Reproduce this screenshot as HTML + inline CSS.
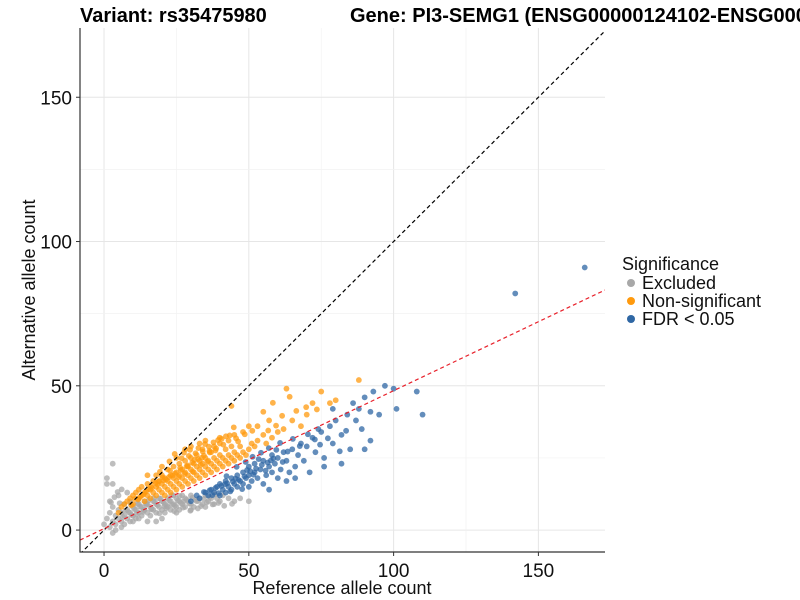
<!DOCTYPE html>
<html><head><meta charset="utf-8"><style>
body{margin:0;background:#fff;}
svg{display:block;font-family:"Liberation Sans",Arial,sans-serif;}
</style></head><body>
<svg id="chart" width="800" height="600"></svg>
<script>
const xTicks=[0,50,100,150];
const yTicks=[0,50,100,150];
const gridVals=[0,25,50,75,100,125,150];
const excludedRef=[0,1,2,2,3,3,4,4,5,5,6,6,7,7,7,8,8,9,9,9,10,10,11,11,12,12,13,13,14,14,15,15,16,16,17,17,18,18,19,19,20,20,21,21,22,22,23,23,24,24,25,25,26,26,27,27,28,28,29,30,30,31,32,33,34,35,36,37,38,39,40,41,43,45,47,50,2,3,5,3,1,1,8,12,10,15,20,6,4,3,18,25,30,35,
 6.5,8.5,10.5,12.5,14.5,16.5,18.5,20.5,22.5,24.5,26.5,28.5,30.5,32.5,34.5,36.5,7.5,9.5,11.5,13.5,15.5,17.5,19.5,21.5,23.5,25.5,27.5,29.5,31.5,33.5,35.5,37.5,39.5,11.2,13.8,16.3,19.1,21.7,24.2,27.3,29.8,32.4,14.6,17.2,20.9,23.3,26.1,9.3,5.4,3.6,41.5,44.2,38.3,4.7,6.1,2.4];
const excludedAlt=[2,4,1,6,3,8,2,5,4,7,3,6,2,5,9,4,7,3,6,10,5,8,4,7,6,9,5,8,7,10,6,9,5,8,7,10,6,9,8,11,7,10,6,9,8,11,7,10,9,12,8,11,7,10,9,12,8,11,10,9,12,8,10,11,9,12,10,11,9,11,10,12,11,10,11,10,10,16,12,23,18,16,13,4,3,3,4,1,0,-1,3,6,7,8,
 4.5,6.2,7.3,8.1,9.2,7.4,8.6,9.7,10.3,8.5,9.4,10.6,11.2,10.1,10.8,11.5,6.8,5.2,9.1,6.3,10.4,9.8,10.9,7.6,8.8,10.2,9.9,9.2,10.5,8.3,9.6,8.9,9.4,5.6,6.9,7.2,5.8,8.4,6.6,7.8,6.7,7.5,8.8,11.1,8.2,12.1,11.8,8.9,9.3,11.4,8.4,9.1,12.3,13.2,14.1,9.6];
const nonsigRef=[5,6,7,8,9,10,10,11,12,12,13,13,14,14,15,15,16,16,17,17,18,18,18,19,19,20,20,20,21,21,21,22,22,22,23,23,23,24,24,24,25,25,25,26,26,26,27,27,27,28,28,28,29,29,29,30,30,30,31,31,31,32,32,32,33,33,33,34,34,34,35,35,35,36,36,37,37,37,38,38,39,39,40,40,40,41,41,42,42,43,43,44,44,45,45,46,47,47,48,49,50,51,52,53,55,56,58,60,62,65,68,70,72,75,78,80,88,63,55,50,45,40,38,30,25,20,15,35,28,48,57,53,44,43,33,
 12.5,14.5,16.5,18.5,20.5,22.5,24.5,26.5,28.5,30.5,32.5,34.5,36.5,38.5,16.2,18.8,21.4,23.7,26.3,28.9,31.2,33.8,36.4,38.7,41.2,19.3,22.6,25.8,27.9,30.6,33.4,35.7,24.4,27.6,29.7,32.6,34.9,37.8,40.6,43.4,46.3,48.6,51.2,44.8,10.7,13.6,15.4,17.8,20.2,22.8,9.4,11.8,26.8,29.3,31.6,34.1,36.2,39.4,42.1,45.6,56.7,59.4,61.5,66.4,58.3,64.1,69.8,73.5];
const nonsigAlt=[6,8,9,10,11,12,9,13,11,14,12,15,10,13,12,16,11,14,13,17,12,15,19,14,17,13,16,19,12,15,18,14,17,21,13,16,19,15,18,22,14,17,20,16,19,23,15,18,21,17,20,24,16,19,22,18,21,25,17,20,23,19,22,26,18,21,24,20,23,28,19,22,25,21,24,20,23,27,22,25,21,24,23,26,30,22,25,24,28,23,26,25,29,24,27,26,25,29,27,26,28,30,29,31,33,30,32,34,35,38,36,40,44,48,44,45,52,49,41,36,33,32,29,29,25,22,19,31,28,34,38,36,43,31,30,
 11.5,13.4,14.6,15.8,17.2,18.4,19.6,20.8,22.1,23.4,24.6,25.8,26.9,27.6,15.2,16.8,17.5,18.9,21.6,22.4,24.3,25.1,27.4,28.3,29.6,20.2,23.8,18.4,19.5,20.3,22.6,23.7,26.4,26.8,27.8,28.4,29.8,30.4,31.6,32.8,30.7,33.2,34.4,35.6,10.8,12.3,14.2,16.3,18.2,20.6,8.6,10.6,24.9,25.7,26.6,27.2,28.9,31.2,32.5,31.8,34.5,36.2,39.6,41.3,44.1,46.2,42.6,41.8];
const fdrRef=[30,32,33,35,36,37,38,39,40,40,41,42,42,43,44,44,45,46,46,47,48,48,49,50,50,50,51,52,52,53,54,55,55,56,57,58,58,59,60,60,61,62,63,64,65,66,67,68,69,70,71,72,73,75,76,78,79,80,82,84,85,86,88,89,90,92,93,95,97,100,101,108,110,90,92,82,76,66,63,57,142,166,74,79,87,
 34.5,36.5,38.5,40.5,42.5,44.5,46.5,48.5,50.5,52.5,54.5,56.5,58.5,37.4,39.6,41.8,43.6,45.4,47.7,49.4,51.6,53.4,55.8,57.6,59.5,61.7,42.3,45.8,48.9,51.3,54.2,56.9,60.8,63.4,65.2,67.6,70.4,72.8,74.6,77.3,81.4,83.6];
const fdrAlt=[10,12,11,13,12,14,13,15,12,16,14,13,17,15,14,18,16,15,19,17,16,20,18,15,19,22,17,20,23,18,21,16,24,19,22,20,26,23,18,25,21,27,24,20,28,22,26,30,24,29,20,32,27,34,25,36,30,38,33,40,28,44,42,35,46,41,48,40,50,49,42,48,40,28,31,23,22,18,17,14,82,91,35,42,38,
 13.2,13.8,14.6,15.3,16.2,16.8,17.4,18.6,20.4,21.3,22.6,23.4,24.8,12.1,12.8,15.9,13.4,17.8,14.2,20.8,19.2,24.6,20.6,24.1,27.8,23.6,18.7,21.9,23.6,25.4,26.8,28.4,30.2,27.2,31.6,29.1,33.2,31.4,29.6,31.8,27.3,34.4];

const L=80,R=605,T=28,B=552,xmin=-8.3,xmax=173,ymin=-7.6,ymax=174;
const sx=v=>L+(v-xmin)/(xmax-xmin)*(R-L);
const sy=v=>B-(v-ymin)/(ymax-ymin)*(B-T);
const svg=document.getElementById('chart');
const NS='http://www.w3.org/2000/svg';
function mk(tag,attrs,parent){const e=document.createElementNS(NS,tag);for(const k in attrs)e.setAttribute(k,attrs[k]);(parent||svg).appendChild(e);return e;}

gridVals.forEach(v=>{
  const major=v%50===0;
  const gx=mk('line',{x1:sx(v),x2:sx(v),y1:T,y2:B,stroke:major?'#e6e6e6':'#f2f2f2','stroke-width':major?1:0.7});
  
  
  const gy=mk('line',{x1:L,x2:R,y1:sy(v),y2:sy(v),stroke:major?'#e6e6e6':'#f2f2f2','stroke-width':major?1:0.7});
  
  
});

const clip=mk('clipPath',{id:'pc'});mk('rect',{x:L,y:T,width:R-L,height:B-T},clip);
const g=mk('g',{'clip-path':'url(#pc)'});
function pts(rs,as,color,name){
  rs.forEach((r,i)=>{
    const c=mk('circle',{cx:sx(r),cy:sy(as[i]),r:2.9,fill:color,'fill-opacity':0.75},g);
    
    
  });
}
pts(excludedRef,excludedAlt,'#a8a8a8','excluded-point');
pts(nonsigRef,nonsigAlt,'#ff9a0e','non-significant-point');
pts(fdrRef,fdrAlt,'#2f67a4','fdr-point');

const id=mk('line',{x1:sx(xmin),y1:sy(xmin),x2:sx(180),y2:sy(180),stroke:'#000','stroke-dasharray':'4,3','stroke-width':1.2},g);


const slope=0.478,icpt=0.5;
const fit=mk('line',{x1:sx(xmin),y1:sy(icpt+slope*xmin),x2:sx(xmax),y2:sy(icpt+slope*xmax),stroke:'#e8202a','stroke-dasharray':'4,3','stroke-width':1.2},g);



const ax=mk('path',{d:`M${L},${T}V${B}H${R}`,fill:'none',stroke:'#333','stroke-width':1.2});



xTicks.forEach(v=>{
  mk('line',{x1:sx(v),x2:sx(v),y1:B,y2:B+4,stroke:'#333'});
  const t=mk('text',{x:sx(v),y:B+25,'text-anchor':'middle','font-size':19,fill:'#111'});t.textContent=v;
  
  
});
yTicks.forEach(v=>{
  mk('line',{x1:L-4,x2:L,y1:sy(v),y2:sy(v),stroke:'#333'});
  const t=mk('text',{x:L-8,y:sy(v)+7,'text-anchor':'end','font-size':19,fill:'#111'});t.textContent=v;
  
  
});
</script>
<div style="position:absolute;left:0;top:0;width:800px;height:600px;pointer-events:none;">
<svg width="800" height="600" style="position:absolute;left:0;top:0">
<text x="342" y="594" text-anchor="middle" font-size="18" fill="#111">Reference allele count</text>
<text transform="translate(35,290) rotate(-90)" text-anchor="middle" font-size="18" fill="#111">Alternative allele count</text>
<text x="80" y="22" font-size="20" font-weight="bold" fill="#000">Variant: rs35475980</text>
<text x="350" y="22" font-size="20" font-weight="bold" fill="#000">Gene: PI3-SEMG1 (ENSG00000124102-ENSG00000124233)</text>
<g>
<text x="622" y="270" font-size="18" fill="#111">Significance</text>
<circle cx="631" cy="283" r="4" fill="#a8a8a8"/>
<text x="642" y="289" font-size="18" fill="#111">Excluded</text>
<circle cx="631" cy="301" r="4" fill="#ff9a0e"/>
<text x="642" y="307" font-size="18" fill="#111">Non-significant</text>
<circle cx="631" cy="319" r="4" fill="#2f67a4"/>
<text x="642" y="325" font-size="18" fill="#111">FDR &lt; 0.05</text>
</g>
</svg></div>
</body></html>
